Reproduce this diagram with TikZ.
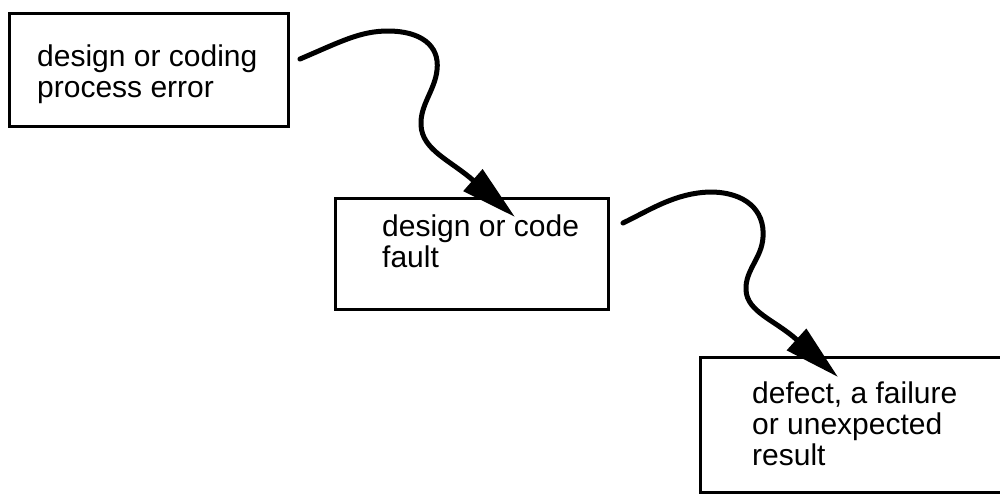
\documentclass[tikz,border=0pt]{standalone}
\usepackage{fontspec}
\setmainfont{Liberation Sans}
\usetikzlibrary{arrows.meta}
\begin{document}
\begin{tikzpicture}[x=1pt,y=-1pt,
  stagebox/.style={draw, line width=3pt, inner sep=0pt, anchor=north west},
  stagetext/.style={font=\fontsize{30}{31}\selectfont, align=left, anchor=base west, inner sep=0pt},
  wave/.style={line width=5pt, line cap=round, line join=round,
    -{Triangle[length=56pt,width=28pt]}}]
  \path[use as bounding box, clip] (0,0) rectangle (1000,493);

  % the three stages
  \node[stagebox, minimum width=279pt, minimum height=113pt] (b1) at (8,12) {};
  \node[stagebox, minimum width=273pt, minimum height=111pt] (b2) at (334,197) {};
  \node[stagebox, minimum width=330pt, minimum height=135pt] (b3) at (699,356) {};

  % texts, placed by the baseline of their last line
  \node[stagetext] (t1) at (37,97) {design or coding\\process error};
  \node[stagetext] (t2) at (382,267) {design or code\\fault};
  \node[stagetext] (t3) at (752,465) {defect, a failure\\or unexpected\\result};

  % wavy connectors
  \coordinate (s1) at (300,59);
  \coordinate (e1) at (515,217);
  \coordinate (s2) at (623,223);
  \coordinate (e2) at (838,377);

  \draw[wave] (s1) .. controls (340,42) and (360,31) .. (388,31)
    .. controls (420,31) and (440,45) .. (437,70)
    .. controls (435,90) and (420,105) .. (421,125)
    .. controls (422,150) and (450,160) .. (e1);
  \draw[wave] (s2) .. controls (650,210) and (675,193) .. (710,192)
    .. controls (745,192) and (765,210) .. (763,237)
    .. controls (762,258) and (745,270) .. (746,290)
    .. controls (747,312) and (775,320) .. (e2);
\end{tikzpicture}
\end{document}
